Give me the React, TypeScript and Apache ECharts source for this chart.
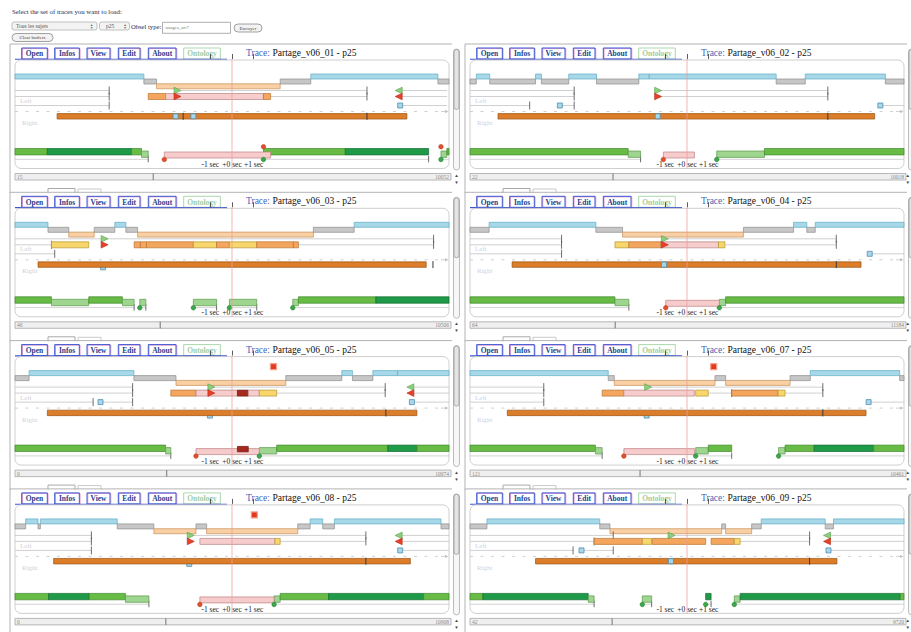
import React, { useEffect, useRef } from "react";
import * as echarts from "echarts";

const SERIF = "'Liberation Serif', 'Times New Roman', serif";

// ---------------- data (time in seconds relative to the current instant; view = -10 s .. +10 s)
const traceNames = ["Partage_v06_01", "Partage_v06_02", "Partage_v06_03", "Partage_v06_04", "Partage_v06_05", "Partage_v06_07", "Partage_v06_08", "Partage_v06_09"];
const traceFirst = ["15", "22", "46", "64", "0", "121", "0", "42"];
const traceLast = ["10052", "10018", "10506", "11184", "10974", "10461", "10908", "9720"];
const scrollFraction = [0.317, 0.328, 0.333, 0.333, 0.348, 0.39, 0.346, 0.326];
const secTicks = [-1, 0, 1];

// step rows: [start, end, level]  b = blue, g = grey, o = orange
const steps01 = [[-10, -4.06, "b"], [-4.06, -3.48, "g"], [-3.48, 2.22, "o"], [2.22, 3.63, "g"], [3.63, 9.49, "b"], [9.49, 10, "g"]];
const steps02 = [[-10, -9.71, "g"], [-9.71, -9.09, "b"], [-9.09, -6.98, "g"], [-6.98, -6.71, "b"], [-6.71, -5.45, "g"], [-5.45, -4.17, "b"], [-4.17, -2.22, "g"], [-2.22, -1.74, "b"], [-1.74, 4.11, "b"], [4.11, 5.45, "g"], [5.45, 9.14, "b"], [9.14, 10, "g"]];
const steps03 = [[-10, -8.48, "b"], [-8.48, -7.52, "g"], [-7.52, -6.35, "o"], [-6.35, -5.4, "g"], [-5.4, -4.89, "b"], [-4.89, -4.35, "g"], [-4.35, 3.75, "o"], [3.75, 5.63, "g"], [5.63, 10, "b"]];
const steps04 = [[-10, -9.12, "g"], [-9.12, -4.2, "b"], [-4.2, -2.97, "g"], [-2.97, 2.6, "o"], [2.6, 4.91, "g"], [4.91, 5.52, "b"], [5.52, 5.91, "g"], [5.91, 10, "b"]];
const steps05 = [[-10, -9.35, "g"], [-9.35, -4.52, "b"], [-4.52, -2.58, "g"], [-2.58, 2.48, "o"], [2.48, 5.06, "g"], [5.06, 5.55, "b"], [5.55, 6.49, "g"], [6.49, 7.63, "b"], [7.63, 10, "b"]];
const steps07 = [[-10, -3.63, "b"], [-3.63, -3.35, "g"], [-3.35, 1.29, "o"], [1.29, 1.78, "g"], [1.78, 4.75, "o"], [4.75, 5.68, "g"], [5.68, 9.8, "b"], [9.8, 10, "g"]];
const steps08 = [[-10, -9.51, "g"], [-9.51, -8.94, "b"], [-8.94, -8.83, "g"], [-8.83, -5.29, "b"], [-5.29, -3.6, "g"], [-3.6, -1.66, "o"], [-1.66, -1.17, "g"], [-1.17, 3.03, "o"], [3.03, 3.6, "g"], [3.6, 4.18, "b"], [4.18, 4.72, "g"], [4.72, 9.63, "b"], [9.63, 10, "g"]];
const steps09 = [[-10, -9.22, "g"], [-9.22, -4.02, "b"], [-4.02, -3.55, "g"], [-3.55, 1.6, "o"], [1.6, 1.78, "g"], [1.78, 2.98, "o"], [2.98, 3.42, "g"], [3.42, 6.37, "b"], [6.37, 6.75, "g"], [6.75, 10, "b"]];

// "Left" interval lines: [start, end, row 1..3]
const lines01 = [[-10, -5.66, 1], [-2.58, 6.22, 1], [7.75, 9.91, 1], [-10, -5.66, 2], [1.78, 6.22, 2], [7.75, 9.91, 2], [-10, -5.66, 3], [7.75, 9.91, 3]];
const lines02 = [[-10, -5.2, 1], [-1.4, 6.49, 1], [-10, -5.2, 2], [-1.4, 6.49, 2], [-10, -7.25, 3], [-5.86, -5.2, 3], [8.91, 10, 3]];
const lines03 = [[-10, 9.29, 1], [-10, -8.32, 2], [3.06, 9.29, 2], [-10, -8.17, 3]];
const lines04 = [[-10, -5.78, 1], [-1.17, 6.88, 1], [-10, -5.78, 2], [1.78, 6.88, 2], [-10, -5.78, 3], [8.42, 10, 3]];
const lines05 = [[-10, -4.58, 1], [-1.02, 7.06, 1], [8.29, 10, 1], [-10, -4.58, 2], [2.06, 7.06, 2], [8.29, 10, 2], [-10, -6.4, 3], [-6.06, -4.58, 3], [8.29, 10, 3]];
const lines07 = [[-10, -6.6, 1], [-1.86, 6.26, 1], [-10, -6.6, 2], [0.98, 2.06, 2], [4.52, 6.26, 2], [-10, -6.6, 3], [8.37, 10, 3]];
const lines08 = [[-10, -6.48, 1], [-1.97, 6.17, 1], [7.75, 10, 1], [-10, -6.48, 2], [2.22, 6.17, 2], [7.75, 10, 2], [-10, -6.48, 3], [7.75, 10, 3]];
const lines09 = [[-10, -3.4, 1], [-0.78, 5.65, 1], [6.52, 10, 1], [-10, -4.28, 2], [2.45, 5.65, 2], [6.52, 10, 2], [-10, -5.25, 3], [-4.86, -3.4, 3], [6.52, 10, 3]];

// "Left" bars: [start, end, kind]  o orange, y yellow, p pink, r dark red
const leftBars01 = [[-3.86, -3.06, "o"], [-3.06, 1.45, "p"], [1.45, 1.78, "o"]];
const leftBars02 = [];
const leftBars03 = [[-8.32, -6.6, "y"], [-4.51, -4.22, "o"], [-4.22, -3.94, "o"], [-3.94, -1.78, "o"], [-1.78, -0.71, "y"], [-0.71, -0.12, "o"], [-0.12, 1.14, "y"], [1.14, 2.83, "o"], [2.83, 3.06, "o"]];
const leftBars04 = [[-3.32, -2.68, "y"], [-2.68, -1.2, "o"], [-1.2, 1.45, "p"], [1.45, 1.75, "y"]];
const leftBars05 = [[-2.82, -1.66, "o"], [-1.66, 0.25, "p"], [0.25, 0.75, "r"], [0.75, 1.26, "p"], [1.26, 2.06, "y"]];
const leftBars07 = [[-3.91, -2.91, "o"], [-2.91, 0.34, "p"], [0.4, 0.98, "y"], [2.06, 4.2, "o"], [4.2, 4.52, "y"]];
const leftBars08 = [[-1.48, 1.98, "p"], [1.98, 2.22, "y"]];
const leftBars09 = [[-4.28, -2.06, "o"], [-2.06, -1.63, "y"], [-1.6, 0.86, "o"], [1.11, 2.18, "o"], [2.18, 2.45, "y"]];

// triangles: [time, row, code]  gr green right, rr red right, gl green left, rl red left
const flags01 = [[-2.58, 1, "gr"], [-2.58, 2, "rr"], [7.75, 1, "gl"], [7.75, 2, "rl"]];
const flags02 = [[-1.4, 1, "gr"], [-1.4, 2, "rr"]];
const flags03 = [[-5.94, 1, "gr"], [-5.94, 2, "rr"]];
const flags04 = [[-1.09, 1, "gr"], [-1.09, 2, "rr"]];
const flags05 = [[-1.02, 1, "gr"], [-1.02, 2, "rr"], [8.29, 1, "gl"], [8.29, 2, "rl"]];
const flags07 = [[-1.86, 1, "gr"]];
const flags08 = [[-1.97, 1, "gr"], [-1.97, 2, "rr"], [7.75, 1, "gl"], [7.75, 2, "rl"]];
const flags09 = [[-0.78, 1, "gr"], [6.52, 1, "gl"], [6.52, 2, "rl"]];

// light-blue squares: [time, row]  3 = left row 3, 4 = on right bar, 5 = under right bar
const squares01 = [[7.75, 3], [-2.6, 4], [-1.78, 4]];
const squares02 = [[-5.86, 3], [8.91, 3], [-1.35, 4]];
const squares03 = [[-5.94, 5]];
const squares04 = [[8.42, 3], [-1.06, 4]];
const squares05 = [[-6.06, 3], [8.29, 3], [-1.02, 5]];
const squares07 = [[8.37, 3], [-1.86, 5]];
const squares08 = [[7.75, 3], [-1.97, 5]];
const squares09 = [[-4.86, 3], [6.52, 3], [-0.74, 4]];

// "Right" bar and its markers
const right01 = [[-8.06, 8.06]]; const rightTicks01 = [-2.25, 6.22];
const right02 = [[-8.71, 8.65]]; const rightTicks02 = [6.49];
const right03 = [[-8.94, 8.95]]; const rightTicks03 = [9.26];
const right04 = [[-8.06, 8.02]]; const rightTicks04 = [6.88];
const right05 = [[-8.51, 8.52]]; const rightTicks05 = [7.09];
const right07 = [[-8.28, 8.25]]; const rightTicks07 = [6.26];
const right08 = [[-8.22, 8.22]]; const rightTicks08 = [6.17];
const right09 = [[-6.98, 6.91]]; const rightTicks09 = [5.65];

// red alert squares above the steps
const alerts01 = []; const alerts02 = []; const alerts03 = []; const alerts04 = [];
const alerts05 = [1.91]; const alerts07 = [1.23]; const alerts08 = [1.03]; const alerts09 = [];

// green activity row: [start, end, level]  m medium, d dark, l light
const green01 = [[-10, -8.51, "m"], [-8.51, -4.63, "d"], [-4.63, -4.17, "m"], [-4.17, -3.86, "l"], [1.45, 5.22, "m"], [5.22, 9.06, "d"], [9.63, 9.9, "l"], [9.9, 10, "m"]];
const green02 = [[-10, -2.71, "m"], [-2.71, -2.14, "l"], [1.37, 3.57, "l"], [3.57, 10, "m"]];
const green03 = [[-10, -8.32, "m"], [-8.32, -6.6, "l"], [-6.6, -5.05, "m"], [-5.05, -4.51, "l"], [-4.25, -3.97, "l"], [-1.78, -0.71, "l"], [-0.12, 1.14, "l"], [2.8, 3.06, "l"], [3.06, 6.63, "m"], [6.63, 10, "d"]];
const green04 = [[-10, -3.32, "m"], [-3.32, -2.68, "l"], [1.49, 1.78, "l"], [1.78, 10, "m"]];
const green05 = [[-10, -3.06, "m"], [-3.06, -2.82, "l"], [1.26, 2.06, "l"], [2.06, 7.18, "m"], [7.18, 8.52, "d"], [8.52, 10, "m"]];
const green07 = [[-10, -4.22, "m"], [-4.22, -3.91, "l"], [0.4, 0.98, "l"], [0.98, 2.06, "m"], [4.22, 4.52, "l"], [4.52, 5.86, "m"], [5.86, 8.6, "d"], [8.6, 10, "m"]];
const green08 = [[-10, -8.45, "m"], [-8.45, -6.58, "d"], [-6.58, -4.91, "m"], [-4.91, -3.83, "l"], [1.94, 2.22, "l"], [2.22, 4.45, "m"], [4.45, 8.83, "d"], [8.83, 10, "m"]];
const green09 = [[-10, -9.4, "m"], [-9.4, -4.55, "d"], [-4.55, -4.28, "l"], [-2.06, -1.63, "l"], [0.86, 1.11, "d"], [2.18, 2.45, "l"], [2.45, 9.83, "d"], [9.83, 10, "m"]];

// selection box around the current instant: [start, end, kind]
const center01 = [[-3.12, 1.78, "p"]];
const center02 = [[-1.09, 0.34, "p"]];
const center03 = [];
const center04 = [[-0.98, 1.49, "p"]];
const center05 = [[-1.66, 1.26, "p"], [0.25, 0.75, "r"]];
const center07 = [[-2.91, 0.34, "p"]];
const center08 = [[-1.48, 1.94, "p"]];
const center09 = [];

// base lines under the green row
const base01 = [[-10, -3.86], [1.45, 9.06], [9.63, 10]];
const base02 = [[-10, -2.14], [1.37, 10]];
const base03 = [[-10, -4.51], [-4.25, -3.97], [-1.78, -0.71], [-0.12, 1.14], [2.8, 10]];
const base04 = [[-10, -2.68], [1.49, 10]];
const base05 = [[-10, -2.82], [1.26, 10]];
const base07 = [[-10, -3.91], [0.4, 2.06], [4.22, 10]];
const base08 = [[-10, -3.83], [1.94, 10]];
const base09 = [[-10, -4.28], [-2.06, -1.63], [0.86, 1.11], [2.18, 10]];

// dots: [time, colour, position]
const dots01 = [[-3.12, "r", "low"], [1.45, "r", "high"], [9.63, "r", "high"], [1.45, "g", "low"], [9.63, "g", "low"]];
const dots02 = [[-1.09, "r", "low"], [1.37, "g", "low"]];
const dots03 = [[-4.25, "g", "low"], [-1.78, "g", "low"], [-0.12, "g", "low"], [2.8, "g", "low"]];
const dots04 = [[-0.98, "r", "low"], [1.49, "g", "low"]];
const dots05 = [[-1.66, "r", "low"], [1.26, "g", "low"]];
const dots07 = [[-2.91, "r", "low"], [0.4, "g", "low"], [4.22, "g", "low"]];
const dots08 = [[-1.48, "r", "low"], [1.94, "g", "low"]];
const dots09 = [[-2.06, "g", "low"], [0.86, "g", "low"], [2.18, "g", "low"]];

const panels = [
  { steps: steps01, lines: lines01, leftBars: leftBars01, flags: flags01, squares: squares01, right: right01, rightTicks: rightTicks01, alerts: alerts01, green: green01, center: center01, base: base01, dots: dots01 },
  { steps: steps02, lines: lines02, leftBars: leftBars02, flags: flags02, squares: squares02, right: right02, rightTicks: rightTicks02, alerts: alerts02, green: green02, center: center02, base: base02, dots: dots02 },
  { steps: steps03, lines: lines03, leftBars: leftBars03, flags: flags03, squares: squares03, right: right03, rightTicks: rightTicks03, alerts: alerts03, green: green03, center: center03, base: base03, dots: dots03 },
  { steps: steps04, lines: lines04, leftBars: leftBars04, flags: flags04, squares: squares04, right: right04, rightTicks: rightTicks04, alerts: alerts04, green: green04, center: center04, base: base04, dots: dots04 },
  { steps: steps05, lines: lines05, leftBars: leftBars05, flags: flags05, squares: squares05, right: right05, rightTicks: rightTicks05, alerts: alerts05, green: green05, center: center05, base: base05, dots: dots05 },
  { steps: steps07, lines: lines07, leftBars: leftBars07, flags: flags07, squares: squares07, right: right07, rightTicks: rightTicks07, alerts: alerts07, green: green07, center: center07, base: base07, dots: dots07 },
  { steps: steps08, lines: lines08, leftBars: leftBars08, flags: flags08, squares: squares08, right: right08, rightTicks: rightTicks08, alerts: alerts08, green: green08, center: center08, base: base08, dots: dots08 },
  { steps: steps09, lines: lines09, leftBars: leftBars09, flags: flags09, squares: squares09, right: right09, rightTicks: rightTicks09, alerts: alerts09, green: green09, center: center09, base: base09, dots: dots09 },
];

// ---------------- layout & styles
const ROW: any = { alert: 11, b: 17.5, g: 22.5, o: 27.3, L1: 31.5, L2: 37.5, L3: 46.5, R: 57.3, Rb: 60, G: 92.7, Gl: 95.2, C: 96, Cr: 93.5, base: 100.3, high: 87.7, low: 100.5 };
const SQROW: any = { 3: "L3", 4: "R", 5: "Rb" };
const STEP: any = { b: ["#a7d8e8", "#5eaec6"], g: ["#c7c7c7", "#8d8d8d"], o: ["#f9d0a5", "#c98f58"] };
const LBAR: any = { o: ["#f5a65e", "#b77430"], y: ["#f8d66b", "#b59834"], p: ["#f6cccc", "#b98585"], r: ["#a52a1e", "#6e1a12"] };
const GREEN: any = { m: ["#68bb45", "#3e8a2a"], d: ["#1f9a48", "#126a2e"], l: ["#9ed58f", "#5b9a4e"] };
const TABS: any[] = [["Open", 21.7, 47.3], ["Infos", 54.7, 79.3], ["View", 87, 110], ["Edit", 118.3, 140], ["About", 148.3, 176], ["Ontology", 183.7, 220.3]];
const COL_X = [0, 455];
const ROW_Y = 59;
const ROW_STEP = 148.3;

function rectEl(x: number, y: number, w: number, h: number, fill: any, stroke: any, lw = 0.7, r: any = 0) {
  return { type: "rect", shape: { x, y, width: w, height: h, r }, style: { fill, stroke, lineWidth: lw } };
}
function lineEl(x1: number, y1: number, x2: number, y2: number, stroke: string, lw = 0.8, dash?: number[]) {
  const style: any = { stroke, lineWidth: lw };
  if (dash) style.lineDash = dash;
  return { type: "line", shape: { x1, y1, x2, y2 }, style };
}
function textEl(x: number, y: number, text: string, size: number, fill: string, extra: any = {}) {
  return { type: "text", x, y, style: { text, fontSize: size, fontFamily: SERIF, fill, align: "left", verticalAlign: "middle", ...extra } };
}

function buildMarks(p: any) {
  const m: any[] = [];
  p.steps.forEach(([a, b, l]: any) => m.push({ k: "step", x0: a, x1: b, y: ROW[l], v: l }));
  p.alerts.forEach((x: number) => m.push({ k: "alert", x0: x, x1: x, y: ROW.alert }));
  p.lines.forEach(([a, b, r]: any) => m.push({ k: "line", x0: a, x1: b, y: ROW["L" + r] }));
  p.leftBars.forEach(([a, b, c]: any) => m.push({ k: "lbar", x0: a, x1: b, y: ROW.L2, v: c }));
  p.flags.forEach(([x, r, c]: any) => m.push({ k: "flag", x0: x, x1: x, y: ROW["L" + r], v: c }));
  p.squares.filter((s: any) => s[1] !== 4).forEach(([x, r]: any) => m.push({ k: "sq", x0: x, x1: x, y: ROW[SQROW[r]] }));
  p.right.forEach(([a, b]: any) => m.push({ k: "rbar", x0: a, x1: b, y: ROW.R }));
  p.rightTicks.forEach((x: number) => m.push({ k: "rtick", x0: x, x1: x, y: ROW.R }));
  p.squares.filter((s: any) => s[1] === 4).forEach(([x, r]: any) => m.push({ k: "sq", x0: x, x1: x, y: ROW[SQROW[r]] }));
  p.base.forEach(([a, b]: any) => m.push({ k: "base", x0: a, x1: b, y: ROW.base }));
  p.green.forEach(([a, b, l]: any) => m.push({ k: "green", x0: a, x1: b, y: l === "l" ? ROW.Gl : ROW.G, v: l }));
  p.center.forEach(([a, b, c]: any) => m.push({ k: "center", x0: a, x1: b, y: c === "r" ? ROW.Cr : ROW.C, v: c }));
  p.dots.forEach(([x, c, pos]: any) => m.push({ k: "dot", x0: x, x1: x, y: ROW[pos], v: c }));
  m.push({ k: "vline", x0: 0, x1: 0, y: 0 });
  return m;
}

function drawMark(m: any, api: any) {
  const a = api.coord([m.x0, m.y]);
  const b = api.coord([m.x1, m.y]);
  const x0 = a[0], x1 = b[0], y = a[1];
  const w = Math.max(x1 - x0, 0.6);
  switch (m.k) {
    case "step": return rectEl(x0, y - 2.5, w, 5, STEP[m.v][0], STEP[m.v][1]);
    case "alert": return rectEl(x0 - 3, y - 3, 6, 6, "#e3381f", "#f2a08c", 1.2);
    case "line": {
      const ch: any[] = [lineEl(x0, y, x1, y, "#c4c4c4", 0.8)];
      if (m.x1 < 9.9) ch.push(lineEl(x1, y - 4, x1, y + 4, "#4a4a4a", 0.8));
      return { type: "group", children: ch };
    }
    case "lbar": return rectEl(x0, y - 3, w, 6, LBAR[m.v][0], LBAR[m.v][1]);
    case "flag": {
      const right = m.v[1] === "r";
      const green = m.v[0] === "g";
      const pts = right ? [[x0 - 2, y - 3.3], [x0 + 5, y], [x0 - 2, y + 3.3]] : [[x0 + 2, y - 3.3], [x0 - 5, y], [x0 + 2, y + 3.3]];
      return { type: "polygon", shape: { points: pts }, style: { fill: green ? "#8ccf7c" : "#e8402a", stroke: green ? "#5a9d4c" : "#b52a14", lineWidth: 0.6 } };
    }
    case "sq": return rectEl(x0 - 2.5, y - 2.5, 5, 5, "#a8d6ea", "#4f8fb0", 0.8);
    case "rbar": return rectEl(x0, y - 2.75, w, 5.5, "#dc7d2a", "#9a5414", 0.7);
    case "rtick": return lineEl(x0, y - 3.5, x0, y + 3.5, "#3a3a3a", 1);
    case "green": return rectEl(x0, y - 3.2, w, 6.4, GREEN[m.v][0], GREEN[m.v][1]);
    case "center": return m.v === "r" ? rectEl(x0, y - 2.7, w, 5.4, "#a4281c", "#6a160e") : rectEl(x0, y - 3, w, 6, "#f6cbcb", "#be8282");
    case "base": {
      const ch: any[] = [lineEl(x0, y, x1, y, "#c8c8c8", 0.8)];
      if (m.x1 < 9.9) ch.push(lineEl(x1, y - 3.5, x1, y + 3, "#4a4a4a", 0.8));
      return { type: "group", children: ch };
    }
    case "dot": return { type: "circle", shape: { cx: x0, cy: y, r: 2.3 }, style: m.v === "r" ? { fill: "#e0502e", stroke: "#b33a1e", lineWidth: 0.5 } : { fill: "#3aa84a", stroke: "#237a30", lineWidth: 0.5 } };
    case "vline": {
      const top = api.coord([0, 0]);
      const bot = api.coord([0, 109.5]);
      return { type: "line", shape: { x1: x0, y1: top[1], x2: x0, y2: bot[1] }, style: { stroke: "#f19c9c", lineWidth: 0.9, opacity: 0.85 } };
    }
  }
  return null;
}

function panelChrome(i: number) {
  const col = i % 2;
  const cx = COL_X[col];
  const ty = ROW_Y + Math.floor(i / 2) * ROW_STEP;
  const g: any[] = [];
  // outer frame
  g.push(lineEl(cx + 10, ty - 15, cx + 452, ty - 15, "#b3b3b3", 1));
  g.push(lineEl(cx + 10, ty - 15, cx + 10, ty + 134, "#b3b3b3", 1));
  // tabs
  TABS.forEach(([label, a, b]) => {
    const onto = label === "Ontology";
    if (!onto) g.push(rectEl(cx + a + 0.8, ty - 10.4, b - a, 11, "none", "#e39ad2", 0.9));
    g.push(rectEl(cx + a, ty - 11, b - a, 11, onto ? "#ffffff" : "none", onto ? "#acd8ac" : "#3d55cf", 1));
    g.push(textEl(cx + (a + b) / 2, ty - 5.2, label, 7.5, onto ? "#9fcc9f" : "#2a3d8c", { align: "center", fontWeight: "bold" }));
  });
  g.push(lineEl(cx + 15, ty + 0.3, cx + 227, ty + 0.3, "#3d55cf", 1.1));
  // title
  g.push(textEl(cx + 246, ty - 6, "Trace:", 9.5, "#4565b8"));
  g.push(textEl(cx + 272.5, ty - 6, traceNames[i] + " - p25", 9.5, "#111111"));
  // inner rounded box
  g.push(rectEl(cx + 15, ty + 1, 434, 108.5, "none", "#c9c9c9", 0.9, 6));
  // row labels
  g.push(textEl(cx + 20, ty + 42, "Left", 7, "#cdd3e0"));
  g.push(textEl(cx + 22, ty + 64, "Right", 7, "#cdd3e0"));
  // dashed divider with small arrow
  g.push(lineEl(cx + 15, ty + 52.5, cx + 440, ty + 52.5, "#c4c4c4", 0.8, [3, 7.5]));
  g.push(lineEl(cx + 441, ty + 52.5, cx + 447, ty + 52.5, "#c4c4c4", 0.8));
  g.push({ type: "polygon", shape: { points: [[cx + 445, ty + 50.8], [cx + 448.5, ty + 52.5], [cx + 445, ty + 54.2]] }, style: { fill: "#c4c4c4" } });
  // horizontal scrollbar
  g.push(rectEl(cx + 15, ty + 114.5, 436, 6.5, "#efefef", "#a6a6a6", 0.8));
  const sx = cx + 15 + 436 * scrollFraction[i];
  g.push(lineEl(sx, ty + 114.5, sx, ty + 121, "#666666", 0.9));
  g.push(textEl(cx + 17, ty + 117.9, traceFirst[i], 5.5, "#8a8a8a"));
  g.push(textEl(cx + 449, ty + 117.9, traceLast[i], 5.5, "#8a8a8a", { align: "right" }));
  // vertical scrollbar
  g.push(rectEl(cx + 453.5, ty - 10, 6, 121, "#f7f7f7", "#ababab", 0.8, 3));
  g.push(rectEl(cx + 454, ty - 9.5, 5, 60, "#e4e4e4", "#9a9a9a", 0.8, 2.5));
  const ax = col === 0 ? cx + 456.5 : cx + 452.8;
  g.push(textEl(ax, ty + 116.5, "▲", 4.5, "#444444", { align: "center" }));
  g.push(textEl(ax, ty + 123.5, "▼", 4.5, "#444444", { align: "center" }));
  // little tabs at the bottom
  g.push({ type: "polyline", shape: { points: [[cx + 48, ty + 134], [cx + 48, ty + 129.5], [cx + 75, ty + 129.5], [cx + 75, ty + 134]] }, style: { stroke: "#a9a9a9", fill: "none", lineWidth: 1 } });
  g.push({ type: "polyline", shape: { points: [[cx + 78, ty + 134], [cx + 78, ty + 130], [cx + 101, ty + 130], [cx + 101, ty + 134]] }, style: { stroke: "#bdbdbd", fill: "none", lineWidth: 0.8 } });
  return g;
}

function topControls() {
  const g: any[] = [];
  g.push(textEl(12, 11.5, "Select the set of traces you want to load:", 6.8, "#1e2b50"));
  g.push(rectEl(12, 22, 85, 8, "#f3f3f3", "#b0b0b0", 0.8, 2));
  g.push(textEl(16, 26, "Tous les sujets", 5.5, "#555555"));
  g.push(textEl(91.5, 24.6, "▲", 3.2, "#555555", { align: "center" }));
  g.push(textEl(91.5, 27.6, "▼", 3.2, "#555555", { align: "center" }));
  g.push(rectEl(99.5, 22, 30, 8, "#f3f3f3", "#b0b0b0", 0.8, 2));
  g.push(textEl(106, 26, "p25", 5.5, "#555555"));
  g.push(textEl(125, 24.6, "▲", 3.2, "#555555", { align: "center" }));
  g.push(textEl(125, 27.6, "▼", 3.2, "#555555", { align: "center" }));
  g.push(textEl(131, 26.5, "Obsel type:", 6.6, "#1e2b50"));
  g.push(rectEl(162.5, 22.3, 68, 11, "#ffffff", "#9a9a9a", 0.8));
  g.push(textEl(165.5, 27.8, "usages_uv7", 5, "#777777"));
  g.push(rectEl(234, 24, 28, 8, "#f2f2f2", "#8a8a8a", 0.8, 4));
  g.push(textEl(248, 28, "Envoyer", 5, "#444444", { align: "center" }));
  g.push(rectEl(12, 33.5, 41, 8, "#f2f2f2", "#8a8a8a", 0.8, 4));
  g.push(textEl(32.5, 37.5, "Clear buffers", 5, "#444444", { align: "center" }));
  return g;
}

function buildOption() {
  const grids: any[] = [], xAxes: any[] = [], yAxes: any[] = [], series: any[] = [];
  let graphics: any[] = topControls();
  panels.forEach((p, i) => {
    const cx = COL_X[i % 2];
    const ty = ROW_Y + Math.floor(i / 2) * ROW_STEP;
    grids.push({ left: cx + 15, top: ty, width: 434, height: 100, containLabel: false, outerBoundsMode: "none", show: false });
    xAxes.push({
      type: "value", gridIndex: i, min: -10, max: 10,
      axisLine: { show: false }, splitLine: { show: false },
      axisTick: { show: true, inside: true, length: 5, customValues: secTicks, lineStyle: { color: "#333333", width: 0.8 } },
      axisLabel: { show: true, customValues: secTicks, margin: 1.5, fontSize: 7.5, fontFamily: SERIF, color: "#222222", formatter: (v: number) => (v < 0 ? "" : "+") + v + " sec" },
    });
    yAxes.push({ type: "value", gridIndex: i, min: 0, max: 100, inverse: true, show: false });
    const marks = buildMarks(p);
    series.push({
      type: "custom", xAxisIndex: i, yAxisIndex: i, clip: false, silent: true,
      data: marks.map((m) => [m.x0, m.x1, m.y]),
      encode: { x: [0, 1], y: 2 },
      renderItem: (params: any, api: any) => drawMark(marks[params.dataIndex], api),
    });
    graphics = graphics.concat(panelChrome(i));
  });
  return {
    animation: false,
    backgroundColor: "#ffffff",
    grid: grids, xAxis: xAxes, yAxis: yAxes, series,
    graphic: { elements: graphics.map((e) => ({ ...e, silent: true })) },
  };
}

export default function App() {
  const ref = useRef<HTMLDivElement>(null);
  useEffect(() => {
    const chart = echarts.init(ref.current as HTMLDivElement, null, { renderer: "svg" });
    chart.setOption(buildOption() as any);
    return () => chart.dispose();
  }, []);
  return <div ref={ref} style={{ position: "fixed", left: 0, top: 0, width: 911, height: 632, background: "#ffffff" }} />;
}
